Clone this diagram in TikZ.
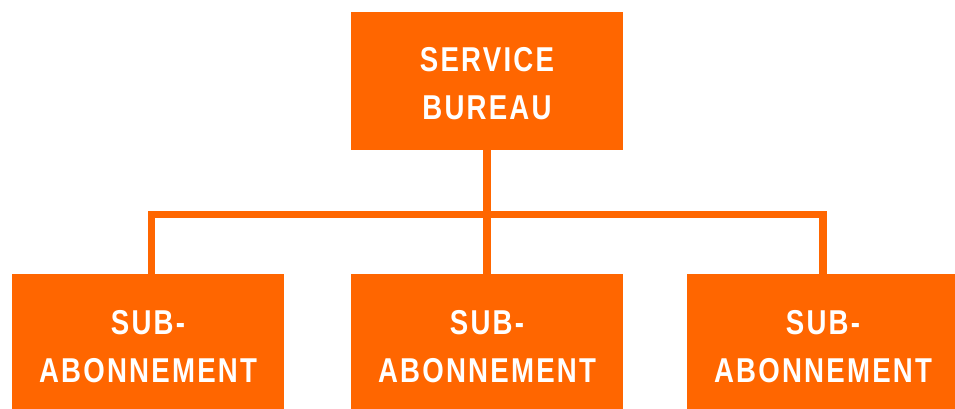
\documentclass[tikz,border=0pt]{standalone}
\usepackage{fontspec}
\newfontfamily\boxfont[FakeStretch=0.8,LetterSpace=6.5]{Liberation Sans Bold}
\definecolor{boxorange}{RGB}{255,102,0}
\begin{document}
\begin{tikzpicture}[x=1pt,y=-1pt,
  orgbox/.style={fill=boxorange, draw=none, minimum width=272pt, text height=108pt, text depth=30pt,
    inner sep=0pt, text=white, align=center, font=\boxfont\fontsize{34.5}{48}\selectfont},
  conn/.style={draw=boxorange, line width=7.5pt, line join=miter}]
\useasboundingbox (0,0) rectangle (955,409);
\node[orgbox] (top) at (487,81) {SERVICE\\BUREAU};
\node[orgbox] (left) at (148,343) {SUB-\\ABONNEMENT};
\node[orgbox] (mid) at (487,343) {SUB-\\ABONNEMENT};
\node[orgbox] (right) at (823,343) {SUB-\\ABONNEMENT};
\coordinate (bus) at (0,214.5);
\draw[conn] (top.south) -- (mid.north);
\draw[conn] ([xshift=3.5pt]left.north) |- (bus -| right.north) -- (right.north);
\end{tikzpicture}
\end{document}
